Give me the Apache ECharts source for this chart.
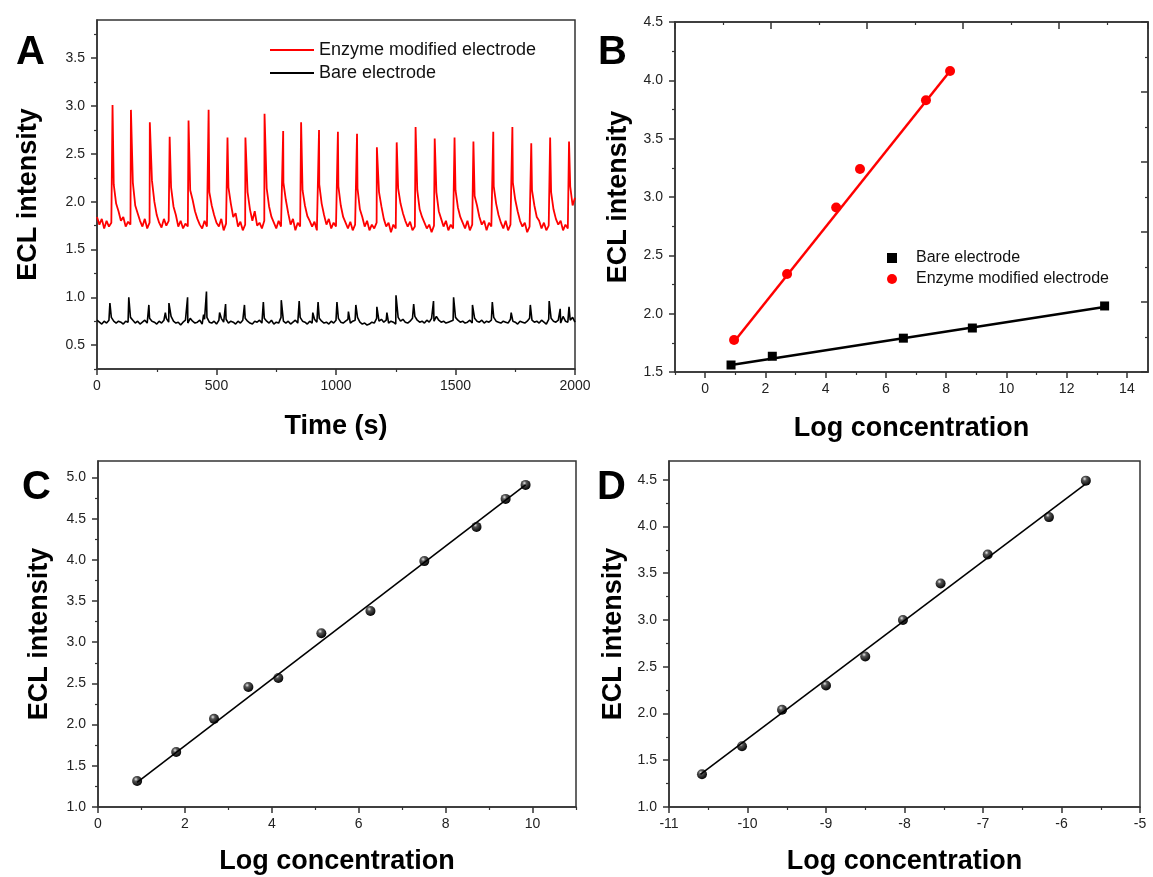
<!DOCTYPE html>
<html>
<head>
<meta charset="utf-8">
<script src="https://cdn.jsdelivr.net/npm/echarts@6/dist/echarts.min.js"></script>
<style>html,body{margin:0;padding:0;background:#fff;}#chart{width:1153px;height:877px;}</style>
</head>
<body>
<div id="chart"></div>
<script>
// ---------------- DATA ----------------
// Panel A: time series sampled every 10 s (0..2000 s), plus spike points
const aSampleStep = 10;
const redGridValues = [
1.84,1.76,1.82,1.72,1.80,1.74,1.78,2.18,1.98,1.90,
1.80,1.84,1.74,1.79,1.76,2.20,1.96,1.88,1.80,1.74,
1.82,1.72,1.78,2.22,2.00,1.86,1.78,1.73,1.82,1.75,
1.80,2.15,1.95,1.86,1.74,1.80,1.72,1.77,1.74,2.12,
2.02,1.90,1.82,1.76,1.72,1.80,1.74,2.10,1.96,1.86,
1.78,1.74,1.82,1.70,1.77,2.15,1.98,1.84,1.88,1.74,
1.79,1.70,1.76,2.10,1.92,1.80,1.90,1.75,1.78,1.72,
1.80,2.14,1.95,1.84,1.78,1.72,1.80,1.74,2.20,2.02,
1.88,1.76,1.82,1.70,1.78,1.74,2.12,1.96,1.85,1.80,
1.74,1.79,1.70,2.18,1.98,1.86,1.76,1.82,1.72,1.78,
1.74,2.16,1.96,1.84,1.78,1.72,1.79,1.70,1.76,2.14,
1.92,1.84,1.74,1.80,1.70,1.76,1.72,1.78,2.10,1.95,
1.82,1.74,1.78,1.68,1.76,1.72,2.14,1.98,1.88,1.80,
1.74,1.79,1.70,1.74,2.12,1.92,1.84,1.78,1.72,1.76,
1.68,1.75,2.10,1.90,1.82,1.74,1.80,1.70,1.76,1.72,
2.12,1.94,1.84,1.78,1.72,1.80,1.70,1.76,2.06,1.96,
1.84,1.76,1.80,1.70,1.78,1.74,2.16,1.98,1.86,1.78,
1.72,1.80,1.70,1.76,2.20,2.02,1.90,1.80,1.74,1.78,
1.68,1.74,2.12,1.96,1.84,1.80,1.72,1.78,1.70,1.75,
2.10,1.92,1.82,1.76,1.80,1.70,1.76,1.72,2.16,1.96,
2.04];
const redPeaks = [
[65,3.01],[142,2.96],[221,2.83],[304,2.68],[383,2.85],[467,2.96],[546,2.67],[621,2.67],
[701,2.92],[779,2.74],[854,2.83],[929,2.75],[1008,2.73],[1088,2.71],[1171,2.57],[1254,2.62],
[1333,2.78],[1413,2.66],[1496,2.67],[1575,2.63],[1658,2.73],[1738,2.78],[1817,2.61],[1896,2.67],[1975,2.63]];
const blackGridValues = [
0.76,0.74,0.72,0.75,0.73,0.76,0.79,0.75,0.73,0.75,
0.74,0.72,0.75,0.74,0.79,0.76,0.73,0.75,0.72,0.74,
0.76,0.73,0.78,0.75,0.74,0.72,0.75,0.73,0.76,0.78,
0.74,0.80,0.75,0.73,0.74,0.71,0.74,0.76,0.73,0.78,
0.75,0.73,0.74,0.76,0.72,0.77,0.79,0.74,0.73,0.75,
0.72,0.76,0.78,0.74,0.77,0.73,0.75,0.74,0.72,0.75,
0.73,0.76,0.78,0.75,0.73,0.72,0.75,0.74,0.76,0.73,
0.78,0.75,0.73,0.76,0.72,0.74,0.73,0.79,0.75,0.73,
0.75,0.72,0.74,0.76,0.73,0.79,0.75,0.74,0.72,0.75,
0.73,0.77,0.74,0.78,0.75,0.73,0.74,0.72,0.75,0.73,
0.76,0.78,0.74,0.73,0.75,0.77,0.73,0.75,0.76,0.79,
0.74,0.72,0.73,0.71,0.72,0.74,0.73,0.78,0.75,0.77,
0.74,0.76,0.73,0.75,0.74,0.72,0.79,0.75,0.77,0.74,
0.73,0.75,0.78,0.80,0.76,0.74,0.75,0.73,0.76,0.74,
0.78,0.75,0.80,0.76,0.74,0.75,0.73,0.74,0.75,0.76,
0.79,0.76,0.74,0.75,0.73,0.74,0.76,0.73,0.78,0.75,
0.74,0.76,0.73,0.75,0.74,0.76,0.79,0.75,0.74,0.73,
0.75,0.74,0.73,0.77,0.75,0.74,0.72,0.75,0.74,0.73,
0.75,0.78,0.76,0.74,0.75,0.73,0.76,0.74,0.72,0.77,
0.78,0.75,0.74,0.76,0.73,0.80,0.75,0.74,0.76,0.79,
0.74];
const blackSpikes = [
[54,0.94],[133,1.00],[217,0.92],[286,0.84],[301,0.94],[379,1.00],[446,0.82],[458,1.06],[513,0.84],[538,0.93],
[617,0.92],[696,0.95],[771,0.97],[846,0.96],[903,0.84],[925,0.95],[1004,0.95],[1052,0.85],[1083,0.92],
[1171,0.90],[1213,0.84],[1251,1.02],[1325,0.93],[1408,0.96],[1492,1.00],[1571,0.92],[1654,0.95],
[1733,0.84],[1813,0.92],[1892,0.96],[1938,0.88],[1975,0.90]];

// Panel B
const bBareX = [0.86, 2.23, 6.58, 8.87, 13.26];
const bBareY = [1.56, 1.635, 1.79, 1.877, 2.066];
const bEnzX = [0.96, 2.72, 4.35, 5.14, 7.33, 8.13];
const bEnzY = [1.774, 2.34, 2.91, 3.24, 3.83, 4.08];
const bBareFit = [[0.86, 1.56], [13.3, 2.06]];
const bEnzFit = [[0.96, 1.76], [8.13, 4.08]];

// Panel C
const cX = [0.9, 1.8, 2.67, 3.46, 4.15, 5.14, 6.27, 7.51, 8.71, 9.38, 9.84];
const cY = [1.315, 1.667, 2.07, 2.456, 2.566, 3.11, 3.38, 3.985, 4.40, 4.74, 4.91];
const cFit = [[0.9, 1.30], [9.84, 4.91]];

// Panel D
const dX = [-10.58, -10.07, -9.56, -9.0, -8.50, -8.02, -7.54, -6.94, -6.16, -5.69];
const dY = [1.35, 1.65, 2.04, 2.30, 2.61, 3.0, 3.39, 3.70, 4.10, 4.49];
const dFit = [[-10.6, 1.35], [-5.7, 4.45]];

// Tick values
const aXMajor = [0, 500, 1000, 1500, 2000];
const aXMinor = [250, 750, 1250, 1750];
const aYMajor = [0.5, 1.0, 1.5, 2.0, 2.5, 3.0, 3.5];
const aYMinor = [0.25, 0.75, 1.25, 1.75, 2.25, 2.75, 3.25, 3.75];
const bXMajor = [0, 2, 4, 6, 8, 10, 12, 14];
const bXMinor = [-1, 1, 3, 5, 7, 9, 11, 13];
const bYMajor = [1.5, 2.0, 2.5, 3.0, 3.5, 4.0, 4.5];
const bYMinor = [1.75, 2.25, 2.75, 3.25, 3.75, 4.25];
const cXMajor = [0, 2, 4, 6, 8, 10];
const cXMinor = [1, 3, 5, 7, 9, 11];
const cYMajor = [1.0, 1.5, 2.0, 2.5, 3.0, 3.5, 4.0, 4.5, 5.0];
const cYMinor = [1.25, 1.75, 2.25, 2.75, 3.25, 3.75, 4.25, 4.75];
const dXMajor = [-11, -10, -9, -8, -7, -6, -5];
const dXMinor = [-10.5, -9.5, -8.5, -7.5, -6.5, -5.5];
const dYMajor = [1.0, 1.5, 2.0, 2.5, 3.0, 3.5, 4.0, 4.5];
const dYMinor = [1.25, 1.75, 2.25, 2.75, 3.25, 3.75, 4.25];

// ---------------- BUILD ----------------
const FONT = 'Arial, "Liberation Sans", sans-serif';
const AX = '#333';

function toPairs(xs, ys) { return xs.map((x, i) => [x, ys[i]]); }
function gridSeries(vals, step, extra) {
  return vals.map((v, i) => [i * step, v]).concat(extra).sort((a, b) => a[0] - b[0]);
}

const xAxes = [], yAxes = [];
function addAxes(list, dim, gridIndex, min, max, major, minor, fmt, name, nameGap, margin) {
  const pos = dim === 'x' ? 'bottom' : 'left';
  const idx = list.length;
  list.push({
    type: 'value', gridIndex, min, max, position: pos,
    name, nameLocation: 'middle', nameGap,
    nameTextStyle: { fontFamily: FONT, fontWeight: 'bold', fontSize: 27, color: '#000' },
    axisLine: { show: true, onZero: false, lineStyle: { color: AX, width: 1.5 } },
    axisTick: { show: true, customValues: major, length: 6, lineStyle: { color: AX, width: 1.5 } },
    axisLabel: { show: true, customValues: major, formatter: fmt, fontFamily: FONT, fontSize: 14, color: '#222', margin },
    splitLine: { show: false }
  });
  list.push({
    type: 'value', gridIndex, min, max, position: pos,
    axisLine: { show: false, onZero: false },
    axisTick: { show: true, customValues: minor, length: 3, lineStyle: { color: AX, width: 1.2 } },
    axisLabel: { show: false },
    splitLine: { show: false }
  });
  return idx;
}
const f1 = v => v.toFixed(1);
const f0 = v => String(Math.round(v));

const grids = [
  { left: 97, top: 20, width: 478, height: 349 },
  { left: 675, top: 22, width: 473, height: 350 },
  { left: 98, top: 461, width: 478, height: 346 },
  { left: 669, top: 461, width: 471, height: 346 }
].map(g => Object.assign({ show: true, borderColor: AX, borderWidth: 1.5, backgroundColor: 'transparent', containLabel: false }, g));

const axA_x = addAxes(xAxes, 'x', 0, 0, 2000, aXMajor, aXMinor, f0, 'Time (s)', 44, 10);
const axA_y = addAxes(yAxes, 'y', 0, 0.25, 3.9, aYMajor, aYMinor, f1, 'ECL intensity', 55, 12);
const axB_x = addAxes(xAxes, 'x', 1, -1, 14.7, bXMajor, bXMinor, f0, 'Log concentration', 43, 10);
const axB_y = addAxes(yAxes, 'y', 1, 1.5, 4.5, bYMajor, bYMinor, f1, 'ECL intensity', 43, 12);
const axC_x = addAxes(xAxes, 'x', 2, 0, 11, cXMajor, cXMinor, f0, 'Log concentration', 41, 10);
const axC_y = addAxes(yAxes, 'y', 2, 1.0, 5.2, cYMajor, cYMinor, f1, 'ECL intensity', 45, 12);
const axD_x = addAxes(xAxes, 'x', 3, -11, -5, dXMajor, dXMinor, f0, 'Log concentration', 41, 10);
const axD_y = addAxes(yAxes, 'y', 3, 1.0, 4.7, dYMajor, dYMinor, f1, 'ECL intensity', 42, 12);

// Panel B extra top / right tick axes (no labels, inward ticks)
xAxes.push({
  type: 'value', gridIndex: 1, position: 'top', min: 0, max: 9.85, interval: 2,
  axisLine: { show: true, onZero: false, lineStyle: { color: AX, width: 1.5 } },
  axisTick: { show: true, inside: true, length: 7, lineStyle: { color: AX, width: 1.5 } },
  minorTick: { show: true, splitNumber: 2, length: 3, lineStyle: { color: AX, width: 1.2 } },
  axisLabel: { show: false }, splitLine: { show: false }, minorSplitLine: { show: false }
});
yAxes.push({
  type: 'value', gridIndex: 1, position: 'right', min: 0, max: 10, interval: 2,
  axisLine: { show: true, onZero: false, lineStyle: { color: AX, width: 1.5 } },
  axisTick: { show: true, inside: true, length: 7, lineStyle: { color: AX, width: 1.5 } },
  minorTick: { show: true, splitNumber: 2, length: 3, lineStyle: { color: AX, width: 1.2 } },
  axisLabel: { show: false }, splitLine: { show: false }, minorSplitLine: { show: false }
});

const sphere = {
  type: 'radial', x: 0.38, y: 0.32, r: 0.7,
  colorStops: [{ offset: 0, color: '#e8e8e8' }, { offset: 0.3, color: '#555' }, { offset: 1, color: '#000' }]
};

const series = [
  { name: 'Enzyme modified electrode', type: 'line', xAxisIndex: axA_x, yAxisIndex: axA_y,
    data: gridSeries(redGridValues, aSampleStep, redPeaks), showSymbol: false, animation: false,
    lineStyle: { color: '#ff0000', width: 1.8 }, itemStyle: { color: '#ff0000' } },
  { name: 'Bare electrode', type: 'line', xAxisIndex: axA_x, yAxisIndex: axA_y,
    data: gridSeries(blackGridValues, aSampleStep, blackSpikes), showSymbol: false, animation: false,
    lineStyle: { color: '#000', width: 1.6 }, itemStyle: { color: '#000' } },
  // B
  { name: 'fitBare', type: 'line', xAxisIndex: axB_x, yAxisIndex: axB_y, data: bBareFit,
    showSymbol: false, lineStyle: { color: '#000', width: 2.5 }, animation: false, silent: true },
  { name: 'fitEnz', type: 'line', xAxisIndex: axB_x, yAxisIndex: axB_y, data: bEnzFit,
    showSymbol: false, lineStyle: { color: '#ff0000', width: 2.5 }, animation: false, silent: true },
  { name: 'Bare electrode', type: 'scatter', xAxisIndex: axB_x, yAxisIndex: axB_y, data: toPairs(bBareX, bBareY),
    symbol: 'rect', symbolSize: 9, itemStyle: { color: '#000', opacity: 1 }, animation: false },
  { name: 'Enzyme modified electrode', type: 'scatter', xAxisIndex: axB_x, yAxisIndex: axB_y, data: toPairs(bEnzX, bEnzY),
    symbol: 'circle', symbolSize: 10, itemStyle: { color: '#ff0000', opacity: 1 }, animation: false },
  // C
  { name: 'fitC', type: 'line', xAxisIndex: axC_x, yAxisIndex: axC_y, data: cFit,
    showSymbol: false, lineStyle: { color: '#000', width: 1.6 }, animation: false, silent: true },
  { name: 'C', type: 'scatter', xAxisIndex: axC_x, yAxisIndex: axC_y, data: toPairs(cX, cY),
    symbolSize: 10, itemStyle: { color: sphere, opacity: 1 }, animation: false },
  // D
  { name: 'fitD', type: 'line', xAxisIndex: axD_x, yAxisIndex: axD_y, data: dFit,
    showSymbol: false, lineStyle: { color: '#000', width: 1.6 }, animation: false, silent: true },
  { name: 'D', type: 'scatter', xAxisIndex: axD_x, yAxisIndex: axD_y, data: toPairs(dX, dY),
    symbolSize: 10, itemStyle: { color: sphere, opacity: 1 }, animation: false }
];

const letters = [['A', 16, 53], ['B', 598, 53], ['C', 22, 488], ['D', 597, 488]];

const option = {
  animation: false,
  backgroundColor: '#fff',
  grid: grids,
  xAxis: xAxes,
  yAxis: yAxes,
  legend: [
    { left: 270, top: 41, padding: 0, orient: 'vertical', itemWidth: 44, itemHeight: 2, itemGap: 5,
      selectedMode: false, icon: 'rect',
      textStyle: { fontFamily: FONT, fontSize: 18, color: '#111' },
      data: [
        { name: 'Enzyme modified electrode', icon: 'rect', itemStyle: { color: '#ff0000' } },
        { name: 'Bare electrode', icon: 'rect', itemStyle: { color: '#000' } }
      ] },
    { left: 887, top: 250, padding: 0, orient: 'vertical', itemWidth: 10, itemHeight: 10, itemGap: 5,
      selectedMode: false,
      textStyle: { fontFamily: FONT, fontSize: 16, color: '#111', padding: [0, 0, 0, 14] },
      data: [
        { name: 'Bare electrode', icon: 'rect', itemStyle: { color: '#000' } },
        { name: 'Enzyme modified electrode', icon: 'circle', itemStyle: { color: '#ff0000' } }
      ] }
  ],
  graphic: letters.map(l => ({
    type: 'text', x: l[1], y: l[2],
    style: { text: l[0], font: 'bold 40px ' + FONT, fill: '#000', textVerticalAlign: 'middle', textAlign: 'left' }
  })),
  series
};

const chart = echarts.init(document.getElementById('chart'), null, { renderer: 'canvas' });
chart.setOption(option);
</script>
</body>
</html>
